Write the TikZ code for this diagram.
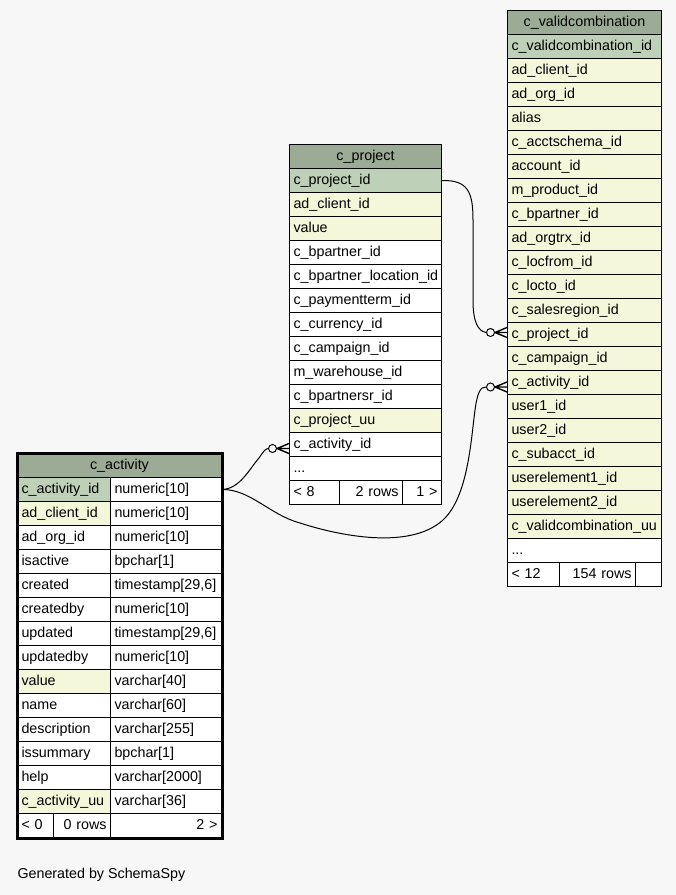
\documentclass[tikz,border=0pt]{standalone}
\usepackage{fontspec}
\setmainfont{Liberation Sans}
\usetikzlibrary{positioning}
\definecolor{headbg}{HTML}{9BAB96}
\definecolor{pkbg}{HTML}{BED1B8}
\definecolor{ixbg}{HTML}{F4F7DA}
\definecolor{pagebg}{HTML}{F7F7F7}
\newcommand{\morecols}{...}

\begin{document}
\begin{tikzpicture}[x=1pt,y=-1pt,line width=1pt,font=\fontsize{14.3}{16}\selectfont,
  cell/.style={draw,anchor=north west,minimum height=24pt,inner xsep=4pt,inner ysep=0pt,
    text height=10pt,text depth=3pt,align=left,text width=#1},
  ocirc/.style={draw,circle,fill=pagebg,inner sep=0pt,minimum size=8pt}]
\tikzstyle{every node}+=[inner sep=0pt]
\fill [pagebg] (0,0) rectangle (676,895);
\useasboundingbox (0,0) rectangle (676,895);
% c_validcombination
\node [cell=146pt,align=center,fill=headbg] (vc) at (507,10) {c\_validcombination};
\foreach \txt/\clr [count=\i] in {c\_validcombination\_id/pkbg, ad\_client\_id/ixbg,
  ad\_org\_id/ixbg, alias/ixbg, c\_acctschema\_id/ixbg, account\_id/ixbg,
  m\_product\_id/ixbg, c\_bpartner\_id/ixbg, ad\_orgtrx\_id/ixbg, c\_locfrom\_id/ixbg,
  c\_locto\_id/ixbg, c\_salesregion\_id/ixbg, c\_project\_id/ixbg, c\_campaign\_id/ixbg,
  c\_activity\_id/ixbg, user1\_id/ixbg, user2\_id/ixbg, c\_subacct\_id/ixbg,
  userelement1\_id/ixbg, userelement2\_id/ixbg, c\_validcombination\_uu/ixbg, \morecols/white}
  \node [cell=146pt,fill=\clr] (vc\i) at (507,{10+\i*24}) {\txt};
\node [cell=44pt,fill=white] (vcf1) at (507,562) {< 12};
\node [cell=68pt,fill=white,align=right] (vcf2) at (559,562) {154 rows};
\node [cell=18pt,fill=white] (vcf3) at (635,562) {};
% c_project
\node [cell=144pt,align=center,fill=headbg] (pj) at (289,144) {c\_project};
\foreach \txt/\clr [count=\i] in {c\_project\_id/pkbg, ad\_client\_id/ixbg, value/ixbg,
  c\_bpartner\_id/white, c\_bpartner\_location\_id/white, c\_paymentterm\_id/white,
  c\_currency\_id/white, c\_campaign\_id/white, m\_warehouse\_id/white,
  c\_bpartnersr\_id/white, c\_project\_uu/ixbg, c\_activity\_id/white, \morecols/white}
  \node [cell=144pt,fill=\clr] (pj\i) at (289,{144+\i*24}) {\txt};
\node [cell=42pt,fill=white] (pjf1) at (289,480) {< 8};
\node [cell=55pt,fill=white,align=right] (pjf2) at (339,480) {2 rows};
\node [cell=31pt,fill=white,align=right] (pjf3) at (402,480) {1 >};
% c_activity
\node [cell=196pt,align=center,fill=headbg] (ac) at (17,453) {c\_activity};
\foreach \txt/\clr/\typ [count=\i] in {c\_activity\_id/pkbg/numeric[10],
  ad\_client\_id/ixbg/numeric[10], ad\_org\_id/white/numeric[10], isactive/white/bpchar[1],
  created/white/{timestamp[29,6]}, createdby/white/numeric[10],
  updated/white/{timestamp[29,6]}, updatedby/white/numeric[10], value/ixbg/varchar[40],
  name/white/varchar[60], description/white/varchar[255], issummary/white/bpchar[1],
  help/white/varchar[2000], c\_activity\_uu/ixbg/varchar[36]}
{
  \node [cell=85pt,fill=\clr] (ac\i) at (17,{453+\i*24}) {\txt};
  \node [cell=103pt,fill=white] (act\i) at (110,{453+\i*24}) {\typ};
}
\node [cell=28pt,fill=white] (acf1) at (17,813) {< 0};
\node [cell=49pt,fill=white,align=right] (acf2) at (53,813) {0 rows};
\node [cell=103pt,fill=white,align=right] (acf3) at (110,813) {2 >};
\draw [line width=3pt] (ac.north west) rectangle (acf3.south east);
% links
\node [ocirc,left=12pt of vc13.west,yshift=2pt] (o1) {};
\node [ocirc,left=12pt of vc15.west,yshift=-4.5pt] (o2) {};
\node [ocirc,left=12pt of pj12.west,yshift=-4pt] (o3) {};
\coordinate (t1) at (o1.east -| vc13.west);
\coordinate (t2) at (o2.east -| vc15.west);
\coordinate (t3) at (o3.east -| pj12.west);
\draw (pj1.east) .. controls (468,180) and (473,192) .. (473,220) -- (473,300)
  .. controls (473,322) and (478,331) .. (o1.west);
\draw (act1.east) .. controls (240,489) and (250,468) .. (259,458)
  .. controls (263,452) and (265,449) .. (o3.west);
\draw (act1.east) .. controls (250,489) and (270,515) .. (300,523)
  .. controls (340,536) and (410,550) .. (443,520)
  .. controls (468,497) and (471,440) .. (475,410)
  .. controls (477,395) and (480,386) .. (o2.west);
\foreach \o/\t in {o1/t1,o2/t2,o3/t3}
  \draw [line width=1.4pt] (\o.east) -- ([yshift=5pt]\t) (\o.east) -- (\t)
    (\o.east) -- ([yshift=-5pt]\t);
\node [anchor=west,text height=10pt,text depth=3pt] (gen) at (17,875) {Generated by SchemaSpy};
\end{tikzpicture}
\end{document}
